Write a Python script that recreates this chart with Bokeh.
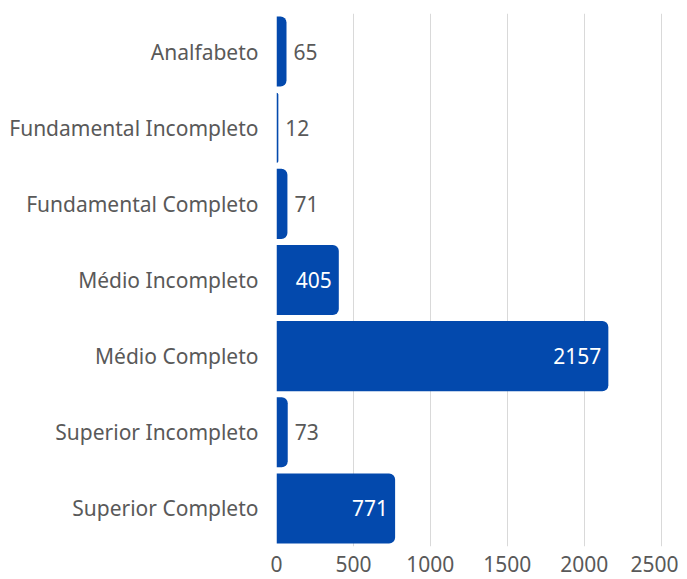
from bokeh.plotting import figure
from bokeh.models import ColumnDataSource, Range1d, FactorRange
from bokeh.embed import file_html
from bokeh.resources import INLINE
from bokeh.core.properties import value

categories = ["Analfabeto", "Fundamental Incompleto", "Fundamental Completo",
              "Médio Incompleto", "Médio Completo", "Superior Incompleto",
              "Superior Completo"]
counts = [65, 12, 71, 405, 2157, 73, 771]
x_ticks = [0, 500, 1000, 1500, 2000, 2500]

FONT = "Noto Sans"
BAR = "#0349AD"
GRAY = "#595959"

y_factors = list(reversed(categories))
src = ColumnDataSource(dict(cat=categories, val=counts))
inside = ColumnDataSource(dict(cat=[c for c, v in zip(categories, counts) if v > 300],
                               val=[v for v in counts if v > 300],
                               lab=[str(v) for v in counts if v > 300]))
outside = ColumnDataSource(dict(cat=[c for c, v in zip(categories, counts) if v <= 300],
                                val=[v for v in counts if v <= 300],
                                lab=[str(v) for v in counts if v <= 300]))

p = figure(y_range=FactorRange(*y_factors, range_padding=0),
           x_range=Range1d(0, 2600),
           frame_width=400, frame_height=533,
           min_border_left=276, min_border_top=13, min_border_right=2, min_border_bottom=33,
           output_backend="svg", toolbar_location=None)
p.outline_line_color = None
p.background_fill_color = "white"

p.hbar(y="cat", right="val", left=0, height=0.92, source=src,
       fill_color=BAR, line_color=None, border_radius=(0, 6, 6, 0))

p.text(x="val", y="cat", text="lab", source=outside, x_offset=7,
       text_align="left", text_baseline="middle", text_color=GRAY,
       text_font=value(FONT), text_font_size="21px")
p.text(x="val", y="cat", text="lab", source=inside, x_offset=-7,
       text_align="right", text_baseline="middle", text_color="white",
       text_font=value(FONT), text_font_size="21px")

p.xaxis.ticker = x_ticks
p.xaxis.axis_line_color = None
p.xaxis.major_tick_line_color = None
p.xaxis.minor_tick_line_color = None
p.xaxis.major_tick_out = 0
p.xaxis.major_label_text_font = FONT
p.xaxis.major_label_text_font_size = "21px"
p.xaxis.major_label_text_color = GRAY
p.xaxis.major_label_standoff = 9

p.yaxis.axis_line_color = None
p.yaxis.major_tick_line_color = None
p.yaxis.major_tick_out = 0
p.yaxis.major_label_text_font = FONT
p.yaxis.major_label_text_font_size = "21px"
p.yaxis.major_label_text_color = GRAY
p.yaxis.major_label_standoff = 18

p.ygrid.grid_line_color = None
p.xgrid.grid_line_color = "#D9D9D9"
p.xgrid.grid_line_width = 1

open("out.html", "w").write(file_html(p, INLINE))
